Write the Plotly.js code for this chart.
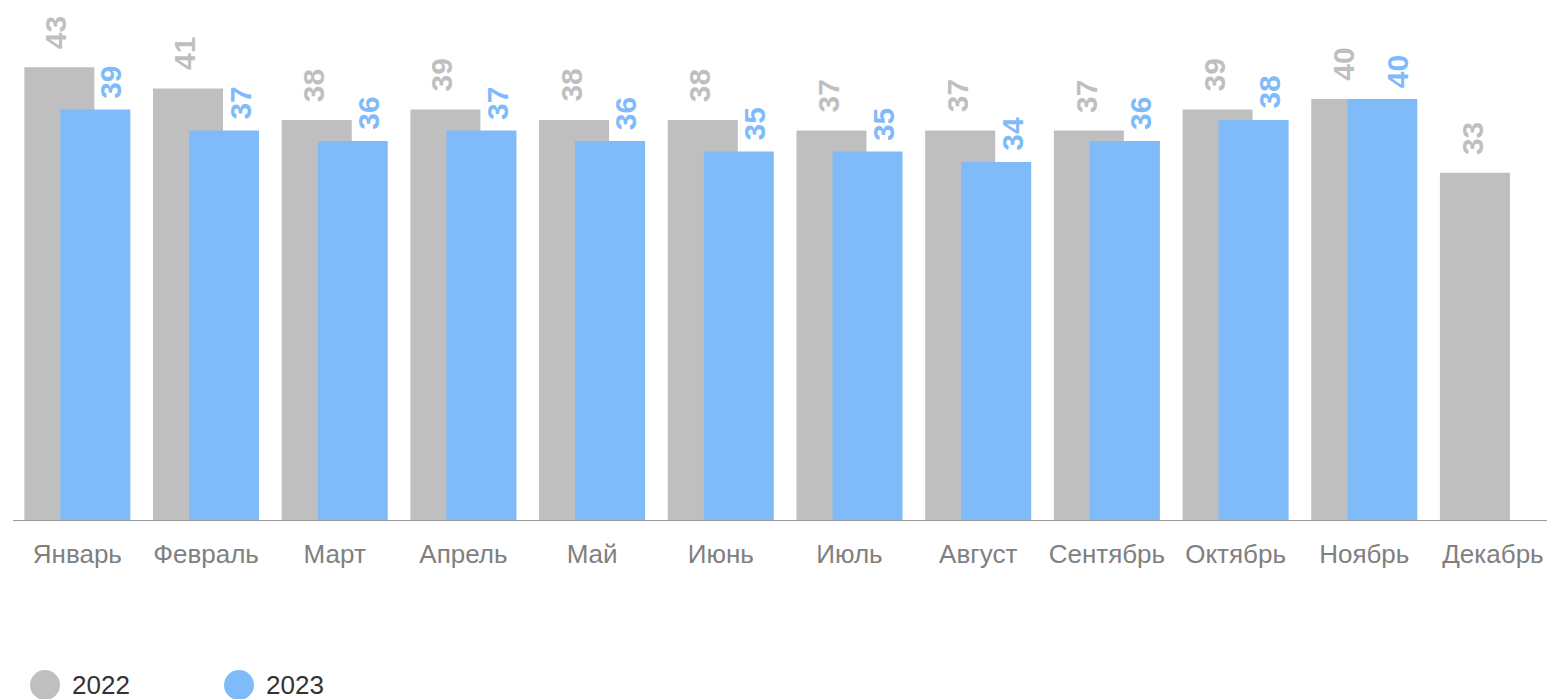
<!DOCTYPE html>
<html>
<head>
<meta charset="utf-8">
<script src="https://cdn.plot.ly/plotly-3.0.1.min.js"></script>
<style>
html,body{margin:0;padding:0;background:#fff;overflow:hidden;}
#chart{width:1547px;height:699px;}
</style>
</head>
<body>
<div id="chart"></div>
<script>
const months = ["Январь","Февраль","Март","Апрель","Май","Июнь","Июль","Август","Сентябрь","Октябрь","Ноябрь","Декабрь"];
const values2022 = [43,41,38,39,38,38,37,37,37,39,40,33];
const values2023 = [39,37,36,37,36,35,35,34,36,38,40,null];
const seriesNames = ["2022","2023"];

const grayColor = "#bfbfbf";
const blueColor = "#7fbbf9";
const FONT = "Arial, 'Liberation Sans', sans-serif";

const W = 1547, H = 699;
const ML = 13, MR = 0, MT = 0, MB = 179;
const plotW = W - ML - MR, plotH = H - MT - MB;

const traces = [
  {type:"bar", name:seriesNames[0], x:months, y:values2022, width:0.544, offset:-0.412,
   marker:{color:grayColor}, hoverinfo:"x+y+name"},
  {type:"bar", name:seriesNames[1], x:months, y:values2023, width:0.544, offset:-0.132,
   marker:{color:blueColor}, hoverinfo:"x+y+name"}
];

const annotations = [];
months.forEach((m,i)=>{
  if (values2022[i] != null) annotations.push({
    x:m, y:values2022[i], xref:"x", yref:"y", text:"<b>"+values2022[i]+"</b>",
    textangle:-90, showarrow:false, xanchor:"center", yanchor:"bottom",
    xshift:-21, yshift:16, font:{family:FONT, size:30, color:grayColor}
  });
  if (values2023[i] != null) annotations.push({
    x:m, y:values2023[i], xref:"x", yref:"y", text:"<b>"+values2023[i]+"</b>",
    textangle:-90, showarrow:false, xanchor:"center", yanchor:"bottom",
    xshift:33.5, yshift:9, font:{family:FONT, size:30, color:blueColor}
  });
});

// custom legend with large circles
const px2x = p => (p - ML) / plotW;
const py2y = p => (MT + plotH - p) / plotH;
const legendItems = [
  {name:seriesNames[0], color:grayColor, cx:45, tx:70},
  {name:seriesNames[1], color:blueColor, cx:239, tx:264}
];
const shapes = [];
legendItems.forEach(it=>{
  shapes.push({type:"circle", xref:"paper", yref:"paper", xsizemode:"pixel", ysizemode:"pixel",
    xanchor:px2x(it.cx), yanchor:py2y(685), x0:-15, x1:15, y0:-15, y1:15,
    fillcolor:it.color, line:{width:0}});
  annotations.push({xref:"paper", yref:"paper", x:px2x(it.tx), y:py2y(685), text:it.name,
    showarrow:false, xanchor:"left", yanchor:"middle", font:{family:FONT, size:26, color:"#333333"}});
});

const layout = {
  width:W, height:H,
  margin:{l:ML, r:MR, t:MT, b:MB, pad:0},
  paper_bgcolor:"#ffffff", plot_bgcolor:"#ffffff",
  barmode:"overlay",
  showlegend:false,
  xaxis:{type:"category", range:[-0.5, 11.42], showgrid:false, zeroline:false,
    showline:true, linecolor:"#999999", linewidth:1, ticks:"", ticklabelstandoff:11,
    tickfont:{family:FONT, size:26, color:"#808080"}, fixedrange:true},
  yaxis:{range:[0, 49.4], showgrid:false, zeroline:false, showline:false,
    showticklabels:false, ticks:"", fixedrange:true},
  annotations:annotations,
  shapes:shapes,
  font:{family:FONT}
};

Plotly.newPlot("chart", traces, layout, {displayModeBar:false, staticPlot:true});
</script>
</body>
</html>
